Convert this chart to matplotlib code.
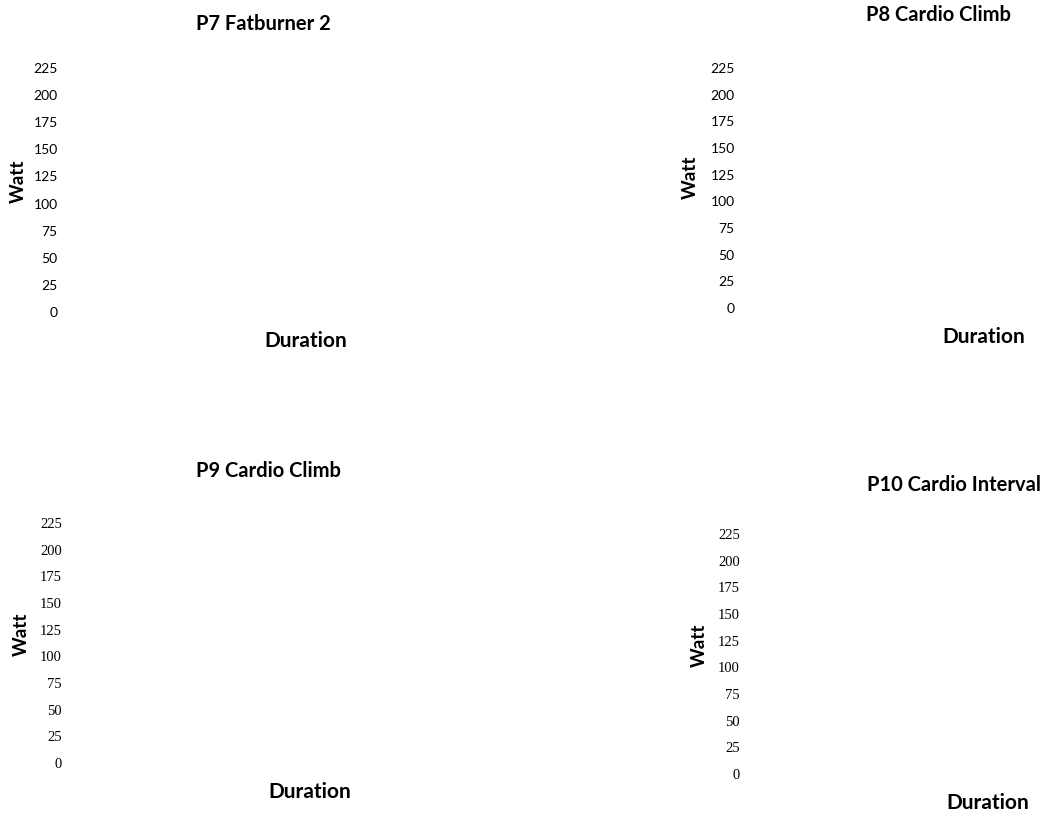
import matplotlib
matplotlib.use("Agg")
import matplotlib.pyplot as plt

W, H = 1045, 817

titles = ["P7 Fatburner 2", "P8 Cardio Climb", "P9 Cardio Climb", "P10 Cardio Interval"]
y_ticks = [0, 25, 50, 75, 100, 125, 150, 175, 200, 225]
y_label = "Watt"
x_label = "Duration"

# panel layout in pixels: (left, top, right, bottom) of the plot area
boxes = [(62, 68, 470, 312), (739, 68, 1040, 308),
         (66, 523, 470, 763), (744, 534, 1040, 774)]
title_xy = [(263, 24), (939, 15), (268, 471), (954, 485)]
xlabel_xy = [(306, 341), (984, 337), (310, 792), (988, 803)]
ylabel_xy = [(18, 181), (690, 177), (21, 634), (699, 645)]
tick_font = ["Lato", "Lato", "Liberation Serif", "Liberation Serif"]
tick_size = [10, 10, 10.5, 10.5]

fig = plt.figure(figsize=(W / 100, H / 100), dpi=100)


def fx(x):
    return x / W


def fy(y):
    return 1 - y / H


for i, title in enumerate(titles):
    l, t, r, b = boxes[i]
    ax = fig.add_axes([fx(l), fy(b), (r - l) / W, (b - t) / H])
    ax.set_ylim(0, 225)
    ax.set_xlim(0, 1)
    ax.set_yticks(y_ticks)
    ax.set_yticklabels([str(v) for v in y_ticks], fontsize=tick_size[i], family=tick_font[i])
    ax.tick_params(axis="y", length=0, pad=3)
    ax.set_xticks([])
    for s in ax.spines.values():
        s.set_visible(False)

    ax.set_ylabel(y_label, fontsize=13.5, fontweight="bold", family="Lato")
    ax.yaxis.set_label_coords(fx(ylabel_xy[i][0]), fy(ylabel_xy[i][1]), transform=fig.transFigure)
    ax.set_xlabel(x_label, fontsize=15, fontweight="bold", family="Lato")
    ax.xaxis.set_label_coords(fx(xlabel_xy[i][0]), fy(xlabel_xy[i][1]), transform=fig.transFigure)
    ax.xaxis.label.set_verticalalignment("center")
    ax.yaxis.label.set_verticalalignment("center")

    fig.text(fx(title_xy[i][0]), fy(title_xy[i][1]), title, ha="center", va="center",
             fontsize=14.5, fontweight="bold", family="Lato")

fig.savefig("out.png", dpi=100)
